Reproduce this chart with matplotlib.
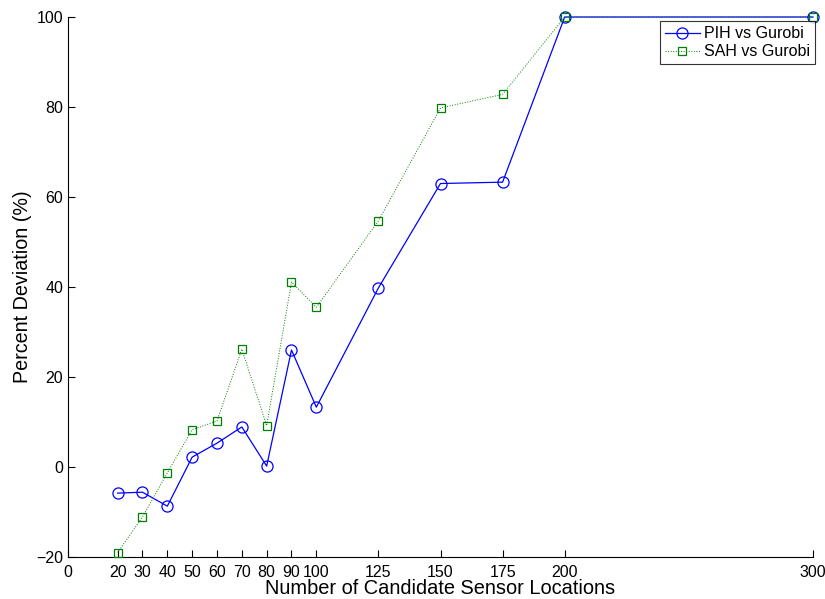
import numpy as np
import matplotlib.pyplot as plt

# Number of candidate sensor locations
locations = [20, 30, 40, 50, 60, 70, 80, 90, 100, 125, 150, 175, 200, 300]

# Percent deviation vs Gurobi
pih = [-5.8, -5.6, -8.7, 2.2, 5.3, 8.9, 0.2, 26.0, 13.3, 39.8, 63.0, 63.3, 100, 100]
sah = [-19.0, -11.1, -1.3, 8.3, 10.2, 26.2, 9.2, 41.1, 35.5, 54.7, 79.8, 82.8, 100, 100]

xticks = [0, 20, 30, 40, 50, 60, 70, 80, 90, 100, 125, 150, 175, 200, 300]

plt.rcParams['font.family'] = ['Liberation Sans', 'DejaVu Sans']

fig = plt.figure(figsize=(8.25, 5.99), dpi=100)
ax = fig.add_axes([0.0824, 0.0701, 0.9031, 0.9015])

ax.plot(locations, pih, color='blue', linewidth=0.9, marker='o',
        markersize=8, markerfacecolor='none', markeredgewidth=0.9,
        label='PIH vs Gurobi', clip_on=False, zorder=3)
ax.plot(locations, sah, color=(0, 0.5, 0), linestyle=':', linewidth=0.7,
        marker='s', markersize=6, markerfacecolor='none', markeredgewidth=0.9,
        label='SAH vs Gurobi', clip_on=False, zorder=3)

ax.set_xlim(0, 300)
ax.set_ylim(-20, 100)
ax.set_xticks(xticks)
ax.set_yticks(np.arange(-20, 101, 20))
ax.tick_params(direction='in', length=5, labelsize=11.5, width=0.8)
ax.tick_params(axis='x', pad=6)
ax.spines['top'].set_visible(False)
ax.spines['right'].set_visible(False)

ax.set_xlabel('Number of Candidate Sensor Locations', fontsize=14.4, labelpad=-1)
ax.set_ylabel('Percent Deviation (%)', fontsize=14.2, labelpad=3)

leg = ax.legend(loc='upper right', bbox_to_anchor=(1.003, 0.992), fontsize=11.5,
                frameon=True, fancybox=False, edgecolor='black',
                borderpad=0.3, handlelength=2.2, labelspacing=0.2,
                handletextpad=0.3, borderaxespad=0)
leg.get_frame().set_linewidth(0.8)

fig.savefig('out.png', dpi=100)
